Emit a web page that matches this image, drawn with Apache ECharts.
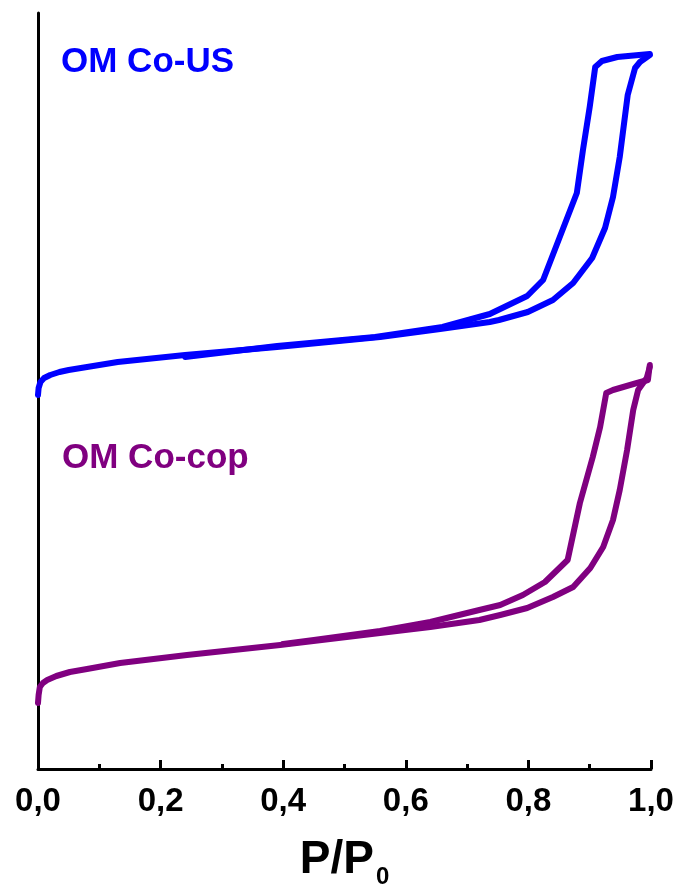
<!DOCTYPE html>
<html>
<head>
<meta charset="utf-8">
<script src="https://cdn.jsdelivr.net/npm/echarts@6/dist/echarts.min.js"></script>
<style>
  html, body { margin: 0; padding: 0; background: #fff; }
  #chart { width: 678px; height: 891px; }
</style>
</head>
<body>
<div id="chart"></div>
<script>
// N2 isotherms, relative pressure vs adsorbed amount (stacked, offset, arbitrary units)
const xTicks = [0, 0.2, 0.4, 0.6, 0.8, 1.0];

const coUsAdsorption = [
  [0.000, 374], [0.001, 381], [0.004, 387], [0.010, 391], [0.020, 394],
  [0.035, 397], [0.050, 399], [0.080, 402], [0.130, 407], [0.240, 414],
  [0.390, 422], [0.558, 432], [0.656, 440], [0.737, 447], [0.752, 449],
  [0.799, 457], [0.840, 469], [0.873, 486], [0.904, 511], [0.925, 541],
  [0.938, 572], [0.949, 612], [0.962, 674], [0.974, 701], [0.982, 707],
  [0.998, 714]
];
const coUsDesorption = [
  [0.998, 715], [0.945, 712], [0.920, 708], [0.909, 702], [0.900, 662],
  [0.889, 619], [0.879, 576], [0.824, 489], [0.798, 473], [0.737, 455],
  [0.660, 442], [0.550, 432], [0.390, 423], [0.240, 412]
];

const coCopAdsorption = [
  [0.000, 66], [0.001, 74], [0.003, 82], [0.008, 86], [0.015, 89],
  [0.030, 93], [0.052, 97], [0.080, 100], [0.134, 106], [0.243, 114],
  [0.395, 124], [0.558, 136], [0.640, 142], [0.720, 149], [0.754, 154],
  [0.798, 161], [0.840, 172], [0.873, 182], [0.901, 201], [0.922, 222],
  [0.938, 249], [0.949, 279], [0.961, 319], [0.971, 359], [0.979, 379],
  [0.993, 391], [0.998, 402]
];
const coCopDesorption = [
  [0.998, 404], [0.995, 389], [0.977, 386], [0.938, 379], [0.927, 376],
  [0.917, 342], [0.905, 312], [0.884, 266], [0.864, 209], [0.827, 187],
  [0.791, 174], [0.754, 164], [0.720, 159], [0.640, 147], [0.558, 138],
  [0.450, 129], [0.400, 125]
];

const BLUE = '#0000ff';
const PURPLE = '#800080';
const FONT = 'Liberation Sans, Arial, sans-serif';

function branch(name, data, color) {
  return {
    name: name,
    type: 'line',
    data: data,
    showSymbol: false,
    symbol: 'none',
    smooth: false,
    lineStyle: { color: color, width: 6, cap: 'round', join: 'round' },
    animation: false
  };
}

const chart = echarts.init(document.getElementById('chart'), null, { renderer: 'canvas' });
chart.setOption({
  backgroundColor: '#ffffff',
  animation: false,
  grid: { left: 38, right: 27, top: 13, bottom: 122, containLabel: false, outerBoundsMode: 'none' },
  xAxis: {
    type: 'value',
    min: xTicks[0],
    max: xTicks[xTicks.length - 1],
    interval: 0.2,
    axisLine: { show: true, onZero: false, lineStyle: { color: '#000', width: 3 } },
    axisTick: { show: true, inside: true, length: 9, lineStyle: { color: '#000', width: 3 } },
    minorTick: { show: true, splitNumber: 2, length: 5, lineStyle: { color: '#000', width: 3 } },
    splitLine: { show: false },
    axisLabel: {
      show: true,
      margin: 16,
      color: '#000',
      fontFamily: FONT,
      fontWeight: 'bold',
      fontSize: 33,
      showMinLabel: true,
      showMaxLabel: true,
      hideOverlap: false,
      formatter: v => v.toFixed(1).replace('.', ',')
    },
    name: '{m|P/P}{s|0}',
    nameLocation: 'middle',
    nameGap: 62,
    nameTextStyle: {
      rich: {
        m: { fontFamily: FONT, fontWeight: 'bold', fontSize: 46, color: '#000' },
        s: { fontFamily: FONT, fontWeight: 'bold', fontSize: 24, color: '#000', padding: [34, 0, 0, 2] }
      }
    }
  },
  yAxis: {
    type: 'value',
    min: 0,
    max: 756,
    axisLine: { show: true, onZero: false, lineStyle: { color: '#000', width: 3 } },
    axisTick: { show: false },
    axisLabel: { show: false },
    splitLine: { show: false }
  },
  graphic: [
    {
      type: 'text', left: 61, top: 45,
      style: { text: 'OM Co-US', fill: BLUE, font: 'bold 35px ' + FONT }
    },
    {
      type: 'text', left: 62, top: 441,
      style: { text: 'OM Co-cop', fill: PURPLE, font: 'bold 35px ' + FONT }
    }
  ],
  series: [
    branch('OM Co-US adsorption', coUsAdsorption, BLUE),
    branch('OM Co-US desorption', coUsDesorption, BLUE),
    branch('OM Co-cop adsorption', coCopAdsorption, PURPLE),
    branch('OM Co-cop desorption', coCopDesorption, PURPLE)
  ]
});
</script>
</body>
</html>
